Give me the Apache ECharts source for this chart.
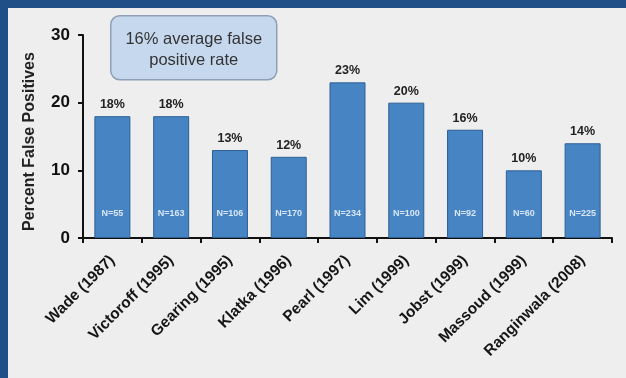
<!DOCTYPE html>
<html>
<head>
<meta charset="utf-8">
<script src="https://cdn.jsdelivr.net/npm/echarts@6/dist/echarts.min.js"></script>
<style>
  html, body { margin: 0; padding: 0; background: #efefef; }
  #frame { position: relative; width: 626px; height: 378px; background: #eeeeee; overflow: hidden; }
  #topbar { position: absolute; left: 0; top: 0; width: 626px; height: 8px; background: #1f4f86; }
  #leftbar { position: absolute; left: 0; top: 0; width: 8px; height: 378px; background: #1f4f86; }
  #chart { position: absolute; left: 0; top: 0; width: 626px; height: 378px; }
</style>
</head>
<body>
<div id="frame">
  <div id="chart"></div>
  <div id="topbar"></div>
  <div id="leftbar"></div>
</div>
<script>
// Studies and their false-positive rates
const studies = ['Wade (1987)', 'Victoroff (1995)', 'Gearing (1995)', 'Klatka (1996)', 'Pearl (1997)', 'Lim (1999)', 'Jobst (1999)', 'Massoud (1999)', 'Ranginwala (2008)'];
const falsePositivePct = [18, 18, 13, 12, 23, 20, 16, 10, 14];
const sampleSizes = [55, 163, 106, 170, 234, 100, 92, 60, 225];
const yTicks = [0, 10, 20, 30];
const calloutLines = ['16% average false', 'positive rate'];

const chart = echarts.init(document.getElementById('chart'), null, { renderer: 'canvas' });
const font = 'Liberation Sans, Arial, sans-serif';

chart.setOption({
  backgroundColor: 'transparent',
  animation: false,
  grid: { left: 83, right: 14, top: 35, bottom: 140, containLabel: false },
  xAxis: {
    type: 'category',
    data: studies,
    axisLine: { lineStyle: { color: '#111', width: 2 } },
    axisTick: { show: true, alignWithLabel: false, length: 5, lineStyle: { color: '#111', width: 2 } },
    axisLabel: {
      rotate: 45, interval: 0, margin: 20,
      fontFamily: font, fontWeight: 'bold', fontSize: 15.5, color: '#151515'
    }
  },
  yAxis: {
    type: 'value',
    min: yTicks[0], max: yTicks[yTicks.length - 1], interval: 10,
    name: 'Percent False Positives',
    nameLocation: 'middle', nameGap: 45, nameRotate: 90,
    nameTextStyle: { fontFamily: font, fontWeight: 'bold', fontSize: 16, color: '#222', padding: [0, 10, 0, 0] },
    splitLine: { show: false },
    axisLine: { show: true, lineStyle: { color: '#111', width: 2 } },
    axisTick: { show: true, length: 5, lineStyle: { color: '#111', width: 2 } },
    axisLabel: { fontFamily: font, fontWeight: 'bold', fontSize: 17, color: '#111', margin: 13 }
  },
  series: [
    {
      type: 'bar',
      data: falsePositivePct,
      barWidth: 36,
      itemStyle: { color: '#4784c4', borderColor: '#2c5f94', borderWidth: 1 },
      label: {
        show: true, position: 'top', distance: 5,
        formatter: p => p.value + '%',
        fontFamily: font, fontWeight: 'bold', fontSize: 12.5, color: '#222'
      },
      z: 2
    },
    {
      type: 'bar',
      data: falsePositivePct,
      barWidth: 36,
      barGap: '-100%',
      itemStyle: { color: 'transparent' },
      label: {
        show: true, position: 'insideBottom', distance: 20,
        formatter: p => 'N=' + sampleSizes[p.dataIndex],
        fontFamily: font, fontWeight: 'bold', fontSize: 9, color: '#d8e6f5'
      },
      silent: true,
      z: 3
    }
  ],
  graphic: [
    {
      type: 'group', left: 110, top: 15,
      children: [
        {
          type: 'rect',
          shape: { x: 0, y: 0, width: 166, height: 64, r: 9 },
          style: { fill: '#c6d8ee', stroke: '#8e9fb6', lineWidth: 1.5 }
        },
        {
          type: 'text',
          x: 83, y: 34,
          style: {
            text: calloutLines.join('\n'),
            align: 'center', verticalAlign: 'middle',
            font: '16.5px ' + font, fill: '#333', lineHeight: 21
          }
        }
      ]
    }
  ]
});
</script>
</body>
</html>
